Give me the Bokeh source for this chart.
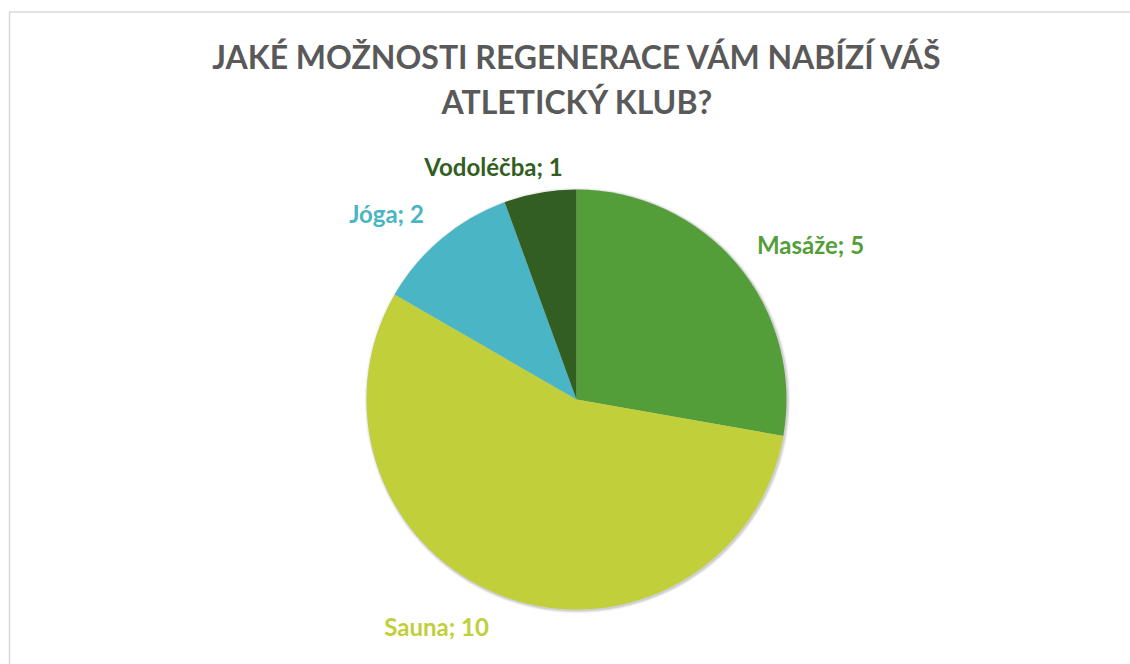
import math
from bokeh.plotting import figure
from bokeh.models import Range1d, ColumnDataSource
from bokeh.core.properties import value
from bokeh.embed import file_html
from bokeh.resources import INLINE

# ---- data ----
categories = ["Masáže", "Sauna", "Jóga", "Vodoléčba"]
counts = [5, 10, 2, 1]
colors = ["#549E39", "#C0CF3A", "#4AB5C4", "#325E22"]
title_lines = ["JAKÉ MOŽNOSTI REGENERACE VÁM NABÍZÍ VÁŠ", "ATLETICKÝ KLUB?"]

# ---- layout (pixel-like data coordinates) ----
W, H = 1130, 664
cx, cy, R = 576, 265, 210
label_pos = [(810, 420), (436, 38), (386, 451), (493, 498)]
title_y = [608, 563]
FONT = "Lato"

p = figure(width=W, height=H, output_backend="svg", toolbar_location=None,
           x_range=Range1d(0, W), y_range=Range1d(0, H),
           x_axis_type=None, y_axis_type=None, min_border=0,
           background_fill_color="white", border_fill_color="white")
p.grid.visible = False
p.outline_line_color = None

# chart border (cropped: only top and left visible)
p.line([9, 9, W], [0, 652.5, 652.5], line_color="#d9d9d9", line_width=1.5)

# subtle shadow
for i, a in enumerate([0.10, 0.06, 0.03]):
    p.circle(x=cx + 1, y=cy - 1, radius=R + 1 + i, fill_color="black",
             fill_alpha=a, line_color=None)

total = sum(counts)
starts, ends = [], []
acc = 0
for c in counts:
    starts.append(math.pi / 2 - 2 * math.pi * acc / total)
    acc += c
    ends.append(math.pi / 2 - 2 * math.pi * acc / total)

src = ColumnDataSource(dict(start=starts, end=ends, color=colors, cat=categories))
p.wedge(x=cx, y=cy, radius=R, start_angle="start", end_angle="end",
        direction="clock", fill_color="color", line_color=None, source=src)

labels = [f"{c}; {v}" for c, v in zip(categories, counts)]
p.text(x=[lp[0] for lp in label_pos], y=[lp[1] for lp in label_pos], text=labels,
       text_color=colors, text_font=value(FONT), text_font_style="bold",
       text_font_size="24px", text_align="center", text_baseline="alphabetic")

p.text(x=[577, 577], y=title_y, text=title_lines, text_color="#595959",
       text_font=value(FONT), text_font_style="bold", text_font_size="32px",
       text_align="center", text_baseline="alphabetic")

open("out.html", "w").write(file_html(p, INLINE))
